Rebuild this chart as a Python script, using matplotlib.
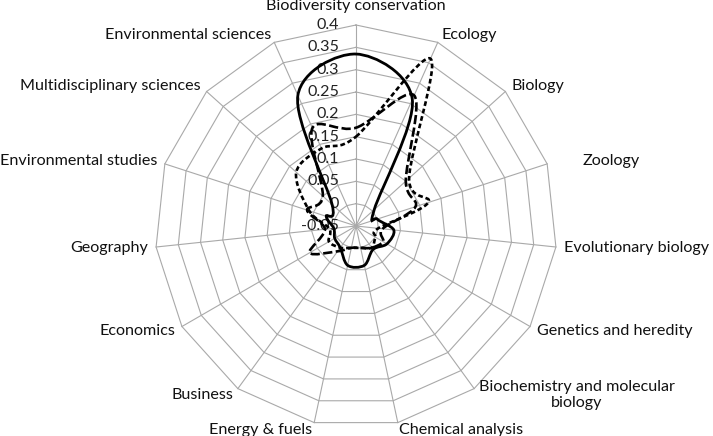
import numpy as np
import matplotlib
matplotlib.use('Agg')
import matplotlib.pyplot as plt
import matplotlib.patches as mpatches
from matplotlib.path import Path

# radar categories, clockwise from the top
categories = ['Biodiversity conservation', 'Ecology', 'Biology', 'Zoology',
              'Evolutionary biology', 'Genetics and heredity',
              'Biochemistry and molecular\nbiology', 'Chemical analysis',
              'Energy & fuels', 'Business', 'Economics', 'Geography',
              'Environmental studies', 'Multidisciplinary sciences',
              'Environmental sciences']

# three series
solid_vals = [0.335, 0.26, 0.005, 0.0, 0.035, 0.03, 0.015, 0.04, 0.04,
              0.01, 0.005, 0.0, 0.02, 0.022, 0.27]
long_dash_vals = [0.17, 0.27, 0.10, 0.09, 0.01, 0.02, 0.01, 0.0, 0.0,
                  0.02, 0.07, 0.02, 0.065, 0.05, 0.19]
short_dash_vals = [0.15, 0.36, 0.11, 0.12, 0.0, 0.0, 0.01, 0.0, 0.0,
                   0.01, 0.02, 0.01, 0.06, 0.13, 0.14]

tick_values = [-0.05, 0, 0.05, 0.1, 0.15, 0.2, 0.25, 0.3, 0.35, 0.4]
tick_labels = ['-0.05', '0', '0.05', '0.1', '0.15', '0.2', '0.25', '0.3', '0.35', '0.4']
r_min = tick_values[0]
r_max = tick_values[-1]

W, H = 713, 436
cx, cy = 356, 226          # centre in pixels
R_px = 201                 # outer ring radius in pixels
scale = R_px / (r_max - r_min)

n = len(categories)
theta = np.arange(n) * 2 * np.pi / n


def to_xy(vals):
    r = np.asarray(vals) - r_min
    return r * np.sin(theta), r * np.cos(theta)


def smooth_path(vals):
    # closed Catmull-Rom curve drawn as cubic Bezier segments
    x, y = to_xy(vals)
    P = np.column_stack([x, y])
    verts = [P[0]]
    codes = [Path.MOVETO]
    for i in range(n):
        p0, p1, p2, p3 = P[i - 1], P[i], P[(i + 1) % n], P[(i + 2) % n]
        c1 = p1 + (p2 - p0) / 6
        c2 = p2 - (p3 - p1) / 6
        verts += [c1, c2, p2]
        codes += [Path.CURVE4] * 3
    return Path(verts, codes)


plt.rcParams['font.family'] = ['Lato', 'DejaVu Sans']
fs = 11.6

fig = plt.figure(figsize=(W / 100, H / 100), dpi=100)
ax = fig.add_axes([0, 0, 1, 1])
ax.set_xlim(-cx / scale, (W - cx) / scale)
ax.set_ylim(-(H - cy) / scale, cy / scale)
ax.axis('off')

grid_c = '#a9a9a9'
R = r_max - r_min
for v in tick_values[1:]:
    gx, gy = to_xy([v] * n)
    ax.plot(np.append(gx, gx[0]), np.append(gy, gy[0]), color=grid_c, lw=0.8, zorder=1)
for t in theta:
    ax.plot([0, R * np.sin(t)], [0, R * np.cos(t)], color=grid_c, lw=0.8, zorder=1)

for v, lab in zip(tick_values, tick_labels):
    ax.text(-17 / scale, v - r_min, lab, ha='right', va='center', fontsize=fs,
            color='#222222', zorder=2)

pad = 8 / scale
for i, (t, lab) in enumerate(zip(theta, categories)):
    s, c = np.sin(t), np.cos(t)
    ha = 'left' if s > 0.2 else ('right' if s < -0.2 else 'center')
    va = 'bottom' if c > 0.99 else 'center'
    px = (R + pad) * s
    py = (R + pad) * c
    if lab == 'Zoology':
        px += 28 / scale
    if i == 0:
        py += 4 / scale
    ax.text(px, py, lab, ha=ha, va=va, fontsize=fs, color='#111111',
            multialignment='center', zorder=2)

ax.add_patch(mpatches.PathPatch(smooth_path(solid_vals), fill=False, edgecolor='black',
                                lw=2.0, zorder=3))
ax.add_patch(mpatches.PathPatch(smooth_path(long_dash_vals), fill=False, edgecolor='black',
                                lw=1.9, linestyle=(0, (3.5, 1.3)), zorder=3))
ax.add_patch(mpatches.PathPatch(smooth_path(short_dash_vals), fill=False, edgecolor='black',
                                lw=1.9, linestyle=(0, (1.8, 1.1)), zorder=3))

fig.savefig('out.png', dpi=100)
